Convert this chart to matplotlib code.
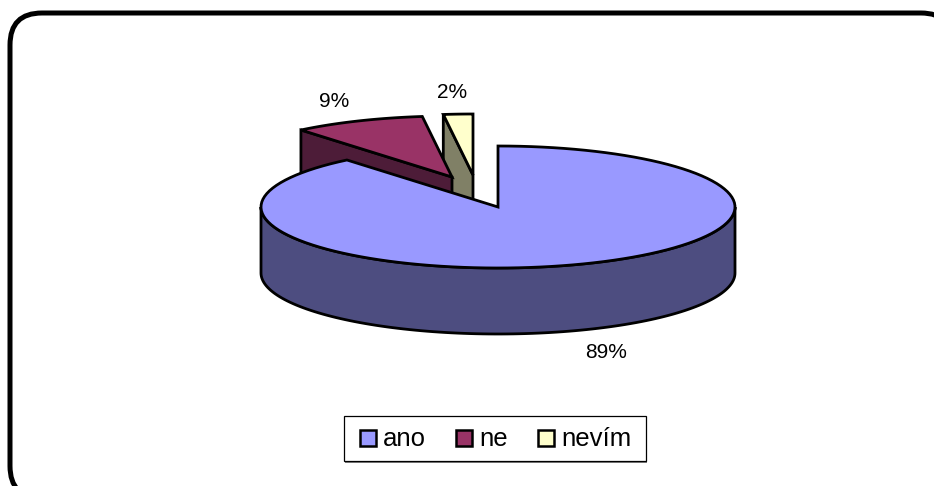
import numpy as np
import matplotlib
matplotlib.use('Agg')
import matplotlib.pyplot as plt
from matplotlib.patches import FancyBboxPatch, Polygon, Rectangle

categories = ['ano', 'ne', 'nevím']
values = [89, 9, 2]
top_colors = ['#9999ff', '#993366', '#ffffcc']
side_colors = ['#4d4d80', '#4d1c38', '#808066']

W, H = 934, 486
CX, CY = 498, 207
RX, RY = 237, 61
DEPTH = 66
# how far each slice is pulled out of the pie
offsets = [(0, 0), (-46, -30), (-25, -32)]
EDGE = 2.0

plt.rcParams['font.family'] = ['Liberation Sans', 'DejaVu Sans']


def rim(a0, a1, dx=0, dy=0, n=120):
    # angles run clockwise from 12 o'clock
    t = np.radians(np.linspace(a0, a1, n))
    return np.column_stack([CX + dx + RX * np.sin(t), CY + dy - RY * np.cos(t)])


def shape(ax, pts, color, z):
    ax.add_patch(Polygon(pts, closed=True, facecolor=color, edgecolor='black',
                         linewidth=EDGE, joinstyle='miter', zorder=z))


fig = plt.figure(figsize=(W / 100, H / 100), dpi=100)
ax = fig.add_axes([0, 0, 1, 1])
ax.set_xlim(0, W)
ax.set_ylim(H, 0)
ax.set_axis_off()

# rounded frame of the chart area, right and bottom sides run off the canvas
R = 32
left, top, right, bottom = 10, 13, 953, 498
ax.add_patch(FancyBboxPatch((left + R, top + R), right - left - 2 * R, bottom - top - 2 * R,
                            boxstyle='round,pad=%d,rounding_size=%d' % (R, R),
                            facecolor='white', edgecolor='black', linewidth=3.6, zorder=1))

edges = np.cumsum([0] + values) / sum(values) * 360

# exploded slices go back to front, the big one last
for i in [2, 1, 0]:
    a0, a1 = edges[i], edges[i + 1]
    dx, dy = offsets[i]
    z = 10 + (2 - i) * 3
    apex = np.array([CX + dx, CY + dy])
    arc = rim(a0, a1, dx, dy)
    down = np.array([0, DEPTH])
    if i == 0:
        # outer wall is only visible from 3 o'clock round to 9 o'clock
        front = rim(90, 270, dx, dy)
        shape(ax, np.vstack([front, front[::-1] + down]), side_colors[i], z)
    else:
        # cut face at the start of the slice
        shape(ax, [arc[0], apex, apex + down, arc[0] + down], side_colors[i], z)
    shape(ax, np.vstack([[apex], arc]), top_colors[i], z + 1)

# percentage labels
label_pos = [(606, 352), (334, 101), (452, 93)]
for v, (x, y) in zip(values, label_pos):
    ax.text(x, y, '%d%%' % v, fontsize=15, ha='center', va='center', color='black', zorder=30)

# legend
ax.add_patch(Rectangle((345, 417), 302, 45.5, facecolor='#808080', edgecolor='none', zorder=30))
ax.add_patch(Rectangle((343.5, 415.5), 302, 45, facecolor='white', edgecolor='black',
                       linewidth=0.9, zorder=31))
swatch_x = [360, 456, 538]
text_x = [383, 479, 561]
for c, col, sx, tx in zip(categories, top_colors, swatch_x, text_x):
    ax.add_patch(Rectangle((sx, 430), 16, 16, facecolor=col, edgecolor='black',
                           linewidth=1.8, zorder=32))
    ax.text(tx, 439, c, fontsize=18.5, ha='left', va='center', color='black', zorder=32)

fig.savefig('out.png', dpi=100)
plt.close()
